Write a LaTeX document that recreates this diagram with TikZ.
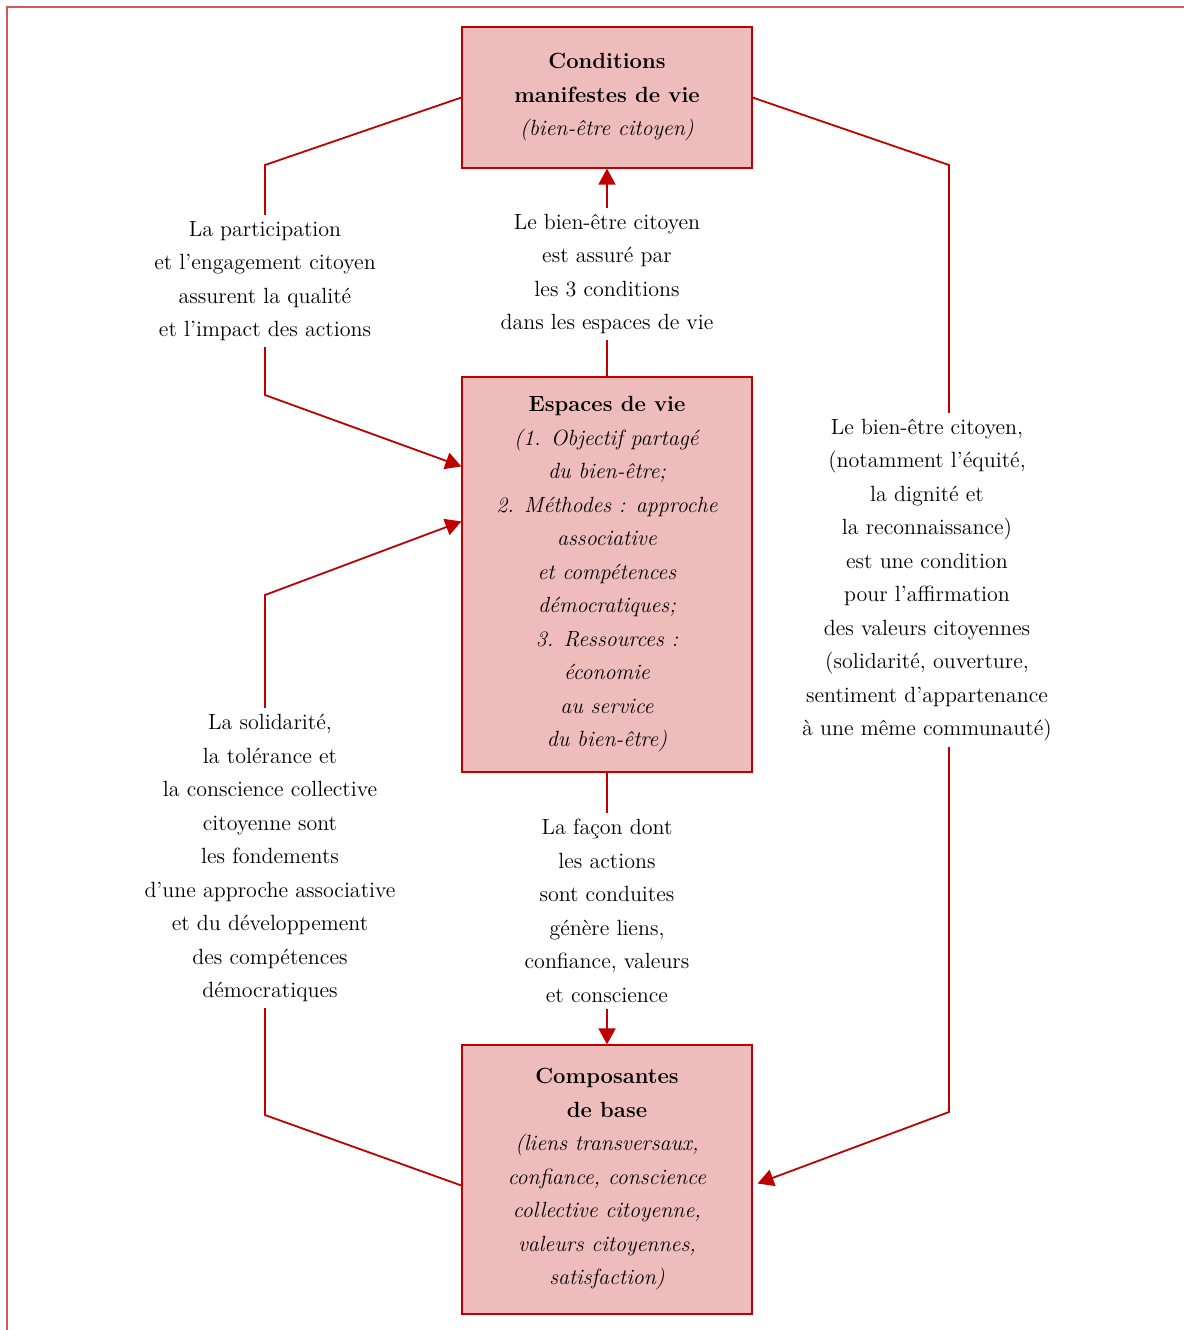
\documentclass[tikz,border=0pt]{standalone}
\usepackage{fontspec}
\usetikzlibrary{arrows.meta}
\definecolor{dred}{HTML}{C00000}
\definecolor{boxfill}{HTML}{EFBCBC}
\definecolor{framered}{HTML}{CD5C5C}
\begin{document}
\begin{tikzpicture}[x=0.5pt,y=-0.5pt,
  txt/.style={font=\fontsize{11}{16.75}\selectfont},
  box/.style={txt,draw=dred,line width=0.6pt,fill=boxfill,minimum width=145pt,align=center,inner sep=0pt},
  lbl/.style={txt,fill=white,align=center,inner sep=3pt},
  conn/.style={draw=dred,line width=0.9pt},
  tip/.style={-{Triangle[length=8pt,width=8.5pt]}}]
\useasboundingbox (0,0) rectangle (1184,1330);
\draw[framered,line width=1pt] (7,1330) -- (7,7) -- (1184,7);

\node[box,minimum height=70.5pt] (top) at (607,97.5)
  {\textbf{Conditions}\\\textbf{manifestes de vie}\\\textit{(bien-être citoyen)}};
\node[box,minimum height=197.5pt] (mid) at (607,574.5)
  {\textbf{Espaces de vie}\\\textit{(1. Objectif partagé}\\\textit{du bien-être;}\\\textit{2. Méthodes : approche}\\\textit{associative}\\\textit{et compétences}\\\textit{démocratiques;}\\\textit{3. Ressources :}\\\textit{économie}\\\textit{au service}\\\textit{du bien-être)}};
\node[box,minimum height=134.5pt] (bot) at (607,1179.5)
  {\textbf{Composantes}\\\textbf{de base}\\\textit{(liens transversaux,}\\\textit{confiance, conscience}\\\textit{collective citoyenne,}\\\textit{valeurs citoyennes,}\\\textit{satisfaction)}};

% connectors
\draw[conn,tip] (top.west) -- (265,165) -- (265,395) -- ([yshift=-45pt]mid.north west);
\draw[conn,tip] (mid.north) -- (top.south);
\draw[conn,tip] (top.east) -- (949,165) -- (949,1112) -- ([xshift=2.5pt,yshift=-2pt]bot.east);
\draw[conn,tip] ([yshift=-3pt]bot.west) -- (265,1115) -- (265,595) -- ([yshift=-72.5pt]mid.north west);
\draw[conn,tip] (mid.south) -- (bot.north);

% labels
\node[lbl] (l1) at (265,281) {La participation\\et l’engagement citoyen\\assurent la qualité\\et l’impact des actions};
\node[lbl] (l2) at (607,274) {Le bien-être citoyen\\est assuré par\\les 3 conditions\\dans les espaces de vie};
\node[lbl] (l3) at (927,580) {Le bien-être citoyen,\\(notamment l’équité,\\la dignité et\\la reconnaissance)\\est une condition\\pour l’affirmation\\des valeurs citoyennes\\(solidarité, ouverture,\\sentiment d’appartenance\\à une même communauté)};
\node[lbl] (l4) at (270,858) {La solidarité,\\la tolérance et\\la conscience collective\\citoyenne sont\\les fondements\\d’une approche associative\\et du développement\\des compétences\\démocratiques};
\node[lbl] (l5) at (607,911) {La façon dont\\les actions\\sont conduites\\génère liens,\\confiance, valeurs\\et conscience};
\end{tikzpicture}
\end{document}
